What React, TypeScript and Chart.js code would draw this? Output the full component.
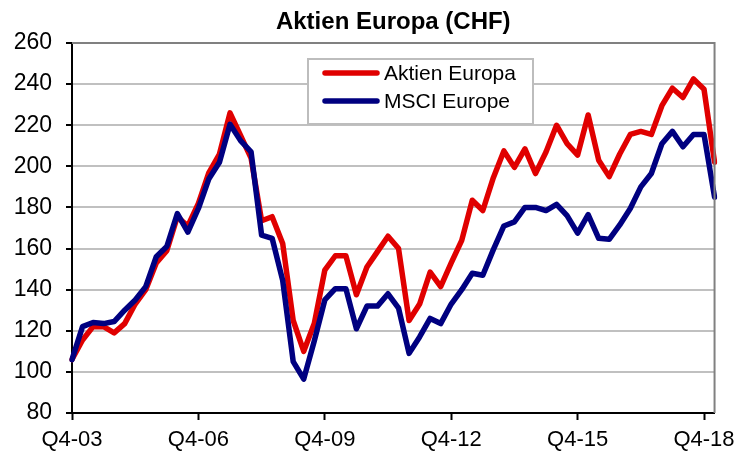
import React, { useEffect, useRef } from "react";
import { Chart, registerables } from "chart.js";

Chart.register(...registerables);

const chartTitle = "Aktien Europa (CHF)";

const quarters = [
  "Q4-03",
  "Q1-04", "Q2-04", "Q3-04", "Q4-04",
  "Q1-05", "Q2-05", "Q3-05", "Q4-05",
  "Q1-06", "Q2-06", "Q3-06", "Q4-06",
  "Q1-07", "Q2-07", "Q3-07", "Q4-07",
  "Q1-08", "Q2-08", "Q3-08", "Q4-08",
  "Q1-09", "Q2-09", "Q3-09", "Q4-09",
  "Q1-10", "Q2-10", "Q3-10", "Q4-10",
  "Q1-11", "Q2-11", "Q3-11", "Q4-11",
  "Q1-12", "Q2-12", "Q3-12", "Q4-12",
  "Q1-13", "Q2-13", "Q3-13", "Q4-13",
  "Q1-14", "Q2-14", "Q3-14", "Q4-14",
  "Q1-15", "Q2-15", "Q3-15", "Q4-15",
  "Q1-16", "Q2-16", "Q3-16", "Q4-16",
  "Q1-17", "Q2-17", "Q3-17", "Q4-17",
  "Q1-18", "Q2-18", "Q3-18", "Q4-18",
  "Q1-19",
];

const aktienEuropa = [
  106, 115.5, 122, 122, 119, 123.5, 133, 140, 153, 159,
  175.5, 171, 182, 197, 206, 226, 215, 204, 173.5, 175.5,
  162.5, 125, 110, 123.5, 149.5, 156.5, 156.5, 137.5, 151, 158.5,
  166, 160, 125, 133, 148.5, 141.5, 153, 164, 183.5, 178.5,
  194.5, 207.5, 199.5, 208.5, 196.5, 207, 220, 211, 205.5, 225,
  203, 195, 206, 215.5, 217, 215.5, 229.5, 238, 233.5, 242.5,
  237.5, 202,
];

const msciEurope = [
  106, 122, 124, 123.5, 124.5, 130, 135, 141.5, 156, 161,
  177, 168, 179.5, 194, 202, 220.5, 212.5, 207, 166.5, 165,
  144.5, 105, 96.5, 115, 135, 140.5, 140.5, 121, 132, 132,
  138, 131, 109, 117, 126, 123.5, 133, 140, 148, 147,
  159.5, 171, 173, 180, 180, 178.5, 181.5, 176, 167.5, 176.5,
  165, 164.5, 171.5, 179.5, 190, 196.5, 211, 217, 209.5, 215.5,
  215.5, 185,
];

const yMin = 80;
const yMax = 260;
const yStep = 20;
const labelEvery = 12;

const FONT = "'Liberation Sans', Arial, Helvetica, sans-serif";

const titlePlugin = {
  id: "customTitle",
  afterDraw(chart: any) {
    const { ctx, chartArea } = chart;
    ctx.save();
    ctx.font = `bold 24px ${FONT}`;
    ctx.fillStyle = "#000";
    ctx.textAlign = "center";
    ctx.textBaseline = "middle";
    ctx.fillText(chartTitle, (chartArea.left + chartArea.right) / 2, 22);
    ctx.restore();
  },
};

const framePlugin = {
  id: "frame",
  afterDatasetsDraw(chart: any) {
    const { ctx, chartArea } = chart;
    ctx.save();
    ctx.strokeStyle = "#808080";
    ctx.lineWidth = 2;
    ctx.beginPath();
    ctx.moveTo(chartArea.left, chartArea.top);
    ctx.lineTo(chartArea.right, chartArea.top);
    ctx.lineTo(chartArea.right, chartArea.bottom);
    ctx.stroke();
    ctx.restore();
  },
};

const legendPlugin = {
  id: "customLegend",
  afterDatasetsDraw(chart: any) {
    const { ctx } = chart;
    const x = 308;
    const y = 59;
    const w = 225;
    const h = 65;
    ctx.save();
    ctx.fillStyle = "#fff";
    ctx.fillRect(x, y, w, h);
    ctx.strokeStyle = "#bdbdbd";
    ctx.lineWidth = 2;
    ctx.strokeRect(x, y, w, h);
    const rows = [73, 101];
    chart.data.datasets.forEach((ds: any, i: number) => {
      const ry = rows[i];
      ctx.strokeStyle = ds.borderColor;
      ctx.lineWidth = 5.5;
      ctx.lineCap = "round";
      ctx.beginPath();
      ctx.moveTo(325, ry);
      ctx.lineTo(377, ry);
      ctx.stroke();
      ctx.fillStyle = "#000";
      ctx.font = `21px ${FONT}`;
      ctx.textAlign = "left";
      ctx.textBaseline = "middle";
      ctx.fillText(ds.label, 384, ry + 1);
    });
    ctx.restore();
  },
};

export default function App() {
  const canvasRef = useRef<HTMLCanvasElement | null>(null);

  useEffect(() => {
    document.body.style.margin = "0";
    const canvas = canvasRef.current;
    if (!canvas) return;
    const chart = new Chart(canvas, {
      type: "line",
      data: {
        labels: quarters,
        datasets: [
          {
            label: "Aktien Europa",
            data: aktienEuropa,
            borderColor: "#e00000",
            backgroundColor: "#e00000",
            borderWidth: 5.5,
            pointRadius: 0,
            tension: 0,
            borderJoinStyle: "round",
            borderCapStyle: "round",
            order: 1,
          },
          {
            label: "MSCI Europe",
            data: msciEurope,
            borderColor: "#000080",
            backgroundColor: "#000080",
            borderWidth: 5.5,
            pointRadius: 0,
            tension: 0,
            borderJoinStyle: "round",
            borderCapStyle: "round",
            order: 0,
          },
        ],
      },
      options: {
        responsive: false,
        animation: false,
        devicePixelRatio: 1,
        layout: { padding: { top: 43, right: 25, left: 0, bottom: 0 } },
        plugins: {
          legend: { display: false },
          title: { display: false },
          tooltip: { enabled: false },
        },
        scales: {
          x: {
            type: "category",
            offset: false,
            grid: {
              drawOnChartArea: false,
              drawTicks: true,
              tickLength: 7,
              tickColor: "#000",
              tickWidth: 2,
            },
            border: { color: "#000", width: 2 },
            ticks: {
              autoSkip: false,
              maxRotation: 0,
              minRotation: 0,
              color: "#000",
              font: { family: FONT, size: 22 },
              padding: 7,
            },
            afterBuildTicks: (scale: any) => {
              scale.ticks = scale.ticks.filter((t: any) => t.value % labelEvery === 0);
            },
            afterFit: (scale: any) => {
              scale.height = 44;
            },
          },
          y: {
            min: yMin,
            max: yMax,
            ticks: {
              stepSize: yStep,
              color: "#000",
              font: { family: FONT, size: 23 },
              padding: 14,
            },
            grid: {
              color: "#c0c0c0",
              lineWidth: 2,
              tickColor: "#000",
              tickLength: 6,
              tickWidth: 2,
            },
            border: { color: "#000", width: 2 },
            afterFit: (scale: any) => {
              scale.width = 72;
            },
          },
        },
      },
      plugins: [framePlugin, legendPlugin, titlePlugin],
    });
    return () => chart.destroy();
  }, []);

  return (
    <div style={{ width: 742, height: 457, background: "#fff" }}>
      <canvas ref={canvasRef} width={742} height={457} />
    </div>
  );
}
